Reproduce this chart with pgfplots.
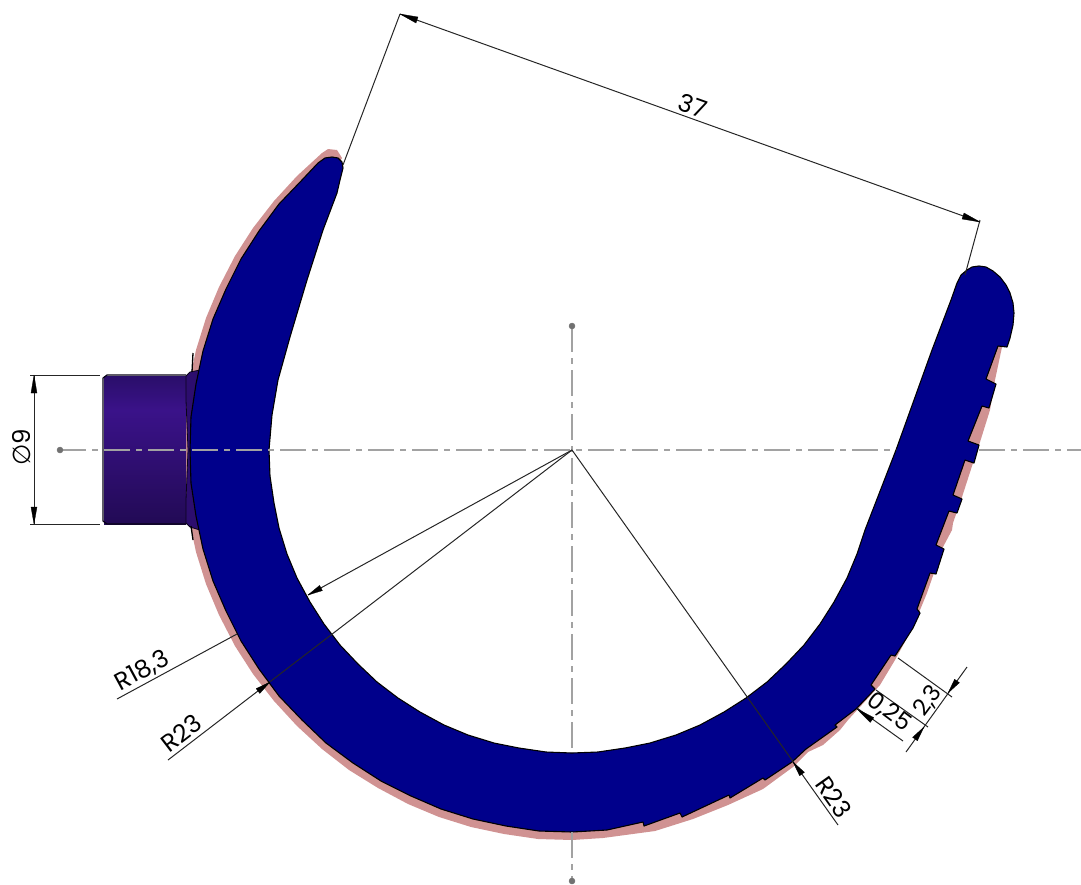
\documentclass[border=0pt]{standalone}
\usepackage{pgfplots}
\pgfplotsset{compat=1.18}
\usepackage{fontspec}
\setmainfont{Poppins}
\newfontfamily\symfont{DejaVu Sans}
\definecolor{partblue}{HTML}{00008B}
\definecolor{pink}{HTML}{D09292}
\definecolor{bossdark}{HTML}{220A55}
\definecolor{bosstop}{HTML}{2A0E6A}
\definecolor{bosslight}{HTML}{3A1289}
\definecolor{flange}{HTML}{2C0D6E}
\definecolor{cl}{HTML}{A2A2A2}
\newcommand{\dimfont}{\fontsize{24.5}{24.5}\selectfont}
\begin{document}
\begin{tikzpicture}
\begin{axis}[
    name=ax,
    scale only axis, width=1081pt, height=884pt,
    xmin=0, xmax=1081, ymin=0, ymax=884, y dir=reverse,
    hide axis,
    every axis plot/.append style={line join=round},
    dimline/.style={black!85, line width=1pt},
    head/.style={fill=black, draw=black, line width=0.3pt},
    centre/.style={cl, line width=1.4pt, dash pattern=on 26pt off 6pt on 6pt off 6pt},
]
% pink stock layer
\addplot[fill=pink, draw=none] coordinates {
    (342,158)(337,150)(328,149)(322,153)(297,176)(274,201)(253,228)(235,256)(219,287)
    (206,318)(196,350)(189,383)(184,417)(183,451)(184,485)(189,519)(196,552)(206,584)
    (219,615)(235,646)(253,674)(274,701)(297,726)(322,749)(349,770)(378,788)(408,804)
    (439,817)(471,827)(504,834)(538,839)(572,840)(603,838)(655,831)(693,819)(728,805)
    (763,789)(793,767)(808,752)(823,745)(840,730)(848,720)(880,685)(895,660)(913,627)
    (920,610)(927,593)(943,547)(952,530)(953,523)(962,497)(973,463)(980,442)(990,410)
    (995,380)(1002,347)
    (985,340)(945,420)(880,570)(800,690)(700,770)(572,790)(440,770)(340,700)(270,600)
    (230,450)(250,330)(290,240)(335,170)
} -- cycle;
% boss
\addplot[draw=none, top color=bosstop, bottom color=bosslight] coordinates {
    (104,376)(186,376)(186,410)(104,410)} -- cycle;
\addplot[draw=none, top color=bosslight, bottom color=bossdark] coordinates {
    (104,410)(186,410)(186,524)(104,524)} -- cycle;
\addplot[black!75!bossdark, line width=1.2pt] coordinates {(186,375)(107,375)(103,378)(103,521)(107,524)(186,524)};
\addplot[fill=flange, draw=black!70!bossdark, line width=0.8pt] coordinates {
    (186,376)(190,372)(200,370)(195,400)(193,450)(195,500)(200,530)(190,527)(186,523)
    (186,500)(188,450)(186,400)} -- cycle;
\addplot[black, line width=1.3pt] coordinates {(193,353)(192,372)};
\addplot[black, line width=1.3pt] coordinates {(191,526)(193,540)};
% blue section
\addplot[fill=partblue, draw=black, line width=1.1pt] coordinates {
    (318,163)(325,158)(332,157)(338,158)(342,162)(343,168)(340,180)(337,193)(323,230)
    (307,280)(290,337)(278,380)(272,415)(269,450)(270,476)(274,503)(279,528)(287,554)
    (297,578)(310,602)(324,624)(340,645)(358,664)(377,682)(398,698)(420,712)(444,725)
    (468,735)(494,743)(519,748)(546,752)(572,753)(598,752)(625,748)(650,743)(676,735)
    (700,725)(724,712)(746,698)(767,682)(786,664)(804,645)(820,624)(834,602)(847,578)
    (857,554)(865,530)(896,450)(914,400)(932,350)(951,300)(957,283)(961,275)(967,270)
    (972,267)(979,266)(986,267)(993,271)(1000,277)(1006,285)(1010,293)(1013,303)
    (1014,313)(1013,325)(1010,338)(1007,347)(998,346)(986,379)(996,384)(989,408)(982,406)
    (968,441)(979,445)(974,463)(965,460)(953,495)(962,499)(957,513)(949,511)(936,545)
    (944,549)(936,574)(930,573)(917,609)(920,613)(913,628)(895,656)(891,655)(871,685)
    (875,689)(856,709)(835,725)(837,727)(806,749)(792,762)(765,780)(763,778)(730,798)
    (729,795)(682,817)(680,813)(644,826)(643,822)(607,830)(572,832)(539,831)(506,826)
    (473,819)(441,809)(411,796)(381,781)(353,763)(326,743)(302,720)(279,696)(259,669)
    (241,641)(226,611)(213,581)(203,549)(196,516)(191,483)(190,450)(191,417)(196,384)
    (203,351)(213,319)(226,289)(241,259)(259,231)(279,204)(302,180)
} -- cycle;
% centre lines
\addplot[centre] coordinates {(60,450)(896,450)};
\addplot[centre] coordinates {(979,450)(1081,450)};
\addplot[centre] coordinates {(572,326)(572,752)};
\addplot[centre] coordinates {(572,832)(572,884)};
\addplot[only marks, mark=*, mark size=3pt, cl!70!black, mark options={draw=none}] coordinates {(60,450)(572,326)(572,881)};
% 37
\addplot[dimline] coordinates {(343,165)(400,14)};
\addplot[dimline] coordinates {(965,275)(980,220)};
\addplot[dimline] coordinates {(400,14)(980,222)};
\addplot[head] coordinates {(400,14)(416,23)(418,17)} -- cycle;
\addplot[head] coordinates {(980,222)(962,219)(964,213)} -- cycle;
\node[rotate=-19.7] at (axis cs:693,106) {\dimfont 37};
% dia 9
\addplot[dimline] coordinates {(30,375)(100,375)};
\addplot[dimline] coordinates {(30,524)(100,524)};
\addplot[dimline] coordinates {(34,375)(34,524)};
\addplot[head] coordinates {(34,375)(31,393)(37,393)} -- cycle;
\addplot[head] coordinates {(34,524)(31,507)(37,507)} -- cycle;
\node[rotate=90] at (axis cs:22,447) {\dimfont{\symfont ∅}9};
% R18,3
\addplot[dimline] coordinates {(572,450)(308,595)};
\addplot[dimline] coordinates {(237,634)(117,699)};
\addplot[head] coordinates {(308,595)(322.4,590.6)(319.6,585.4)} -- cycle;
\node[rotate=28.4] at (axis cs:142,671) {\dimfont R18,3};
% R23 left
\addplot[dimline] coordinates {(572,450)(168,760)};
\addplot[head] coordinates {(270,682)(259.8,693.4)(256.2,688.6)} -- cycle;
\node[rotate=37.5] at (axis cs:181,733) {\dimfont R23};
% R23 right
\addplot[dimline] coordinates {(572,450)(838,825)};
\addplot[head] coordinates {(793,762)(804.4,772.3)(799.6,775.7)} -- cycle;
\node[rotate=-54.7] at (axis cs:834,797) {\dimfont R23};
% 2,3 and 0,25
\addplot[dimline] coordinates {(898,658)(952,697)};
\addplot[dimline] coordinates {(876,690)(928,727)};
\addplot[dimline] coordinates {(857,708)(903,741)};
\addplot[dimline] coordinates {(967,667)(906,752)};
\addplot[head] coordinates {(948,693)(959.4,682.7)(954.6,679.3)} -- cycle;
\addplot[head] coordinates {(924,727)(917.4,740.7)(912.6,737.3)} -- cycle;
\addplot[head] coordinates {(857,709)(873.8,717.6)(870.2,722.4)} -- cycle;
\node[rotate=53.5] at (axis cs:928,701) {\fontsize{23}{23}\selectfont 2,3};
\node[rotate=-37] at (axis cs:889,712) {\fontsize{23.5}{23.5}\selectfont 0,25};
\end{axis}
\path (ax.south west) rectangle (ax.north east);
\end{tikzpicture}
\end{document}
